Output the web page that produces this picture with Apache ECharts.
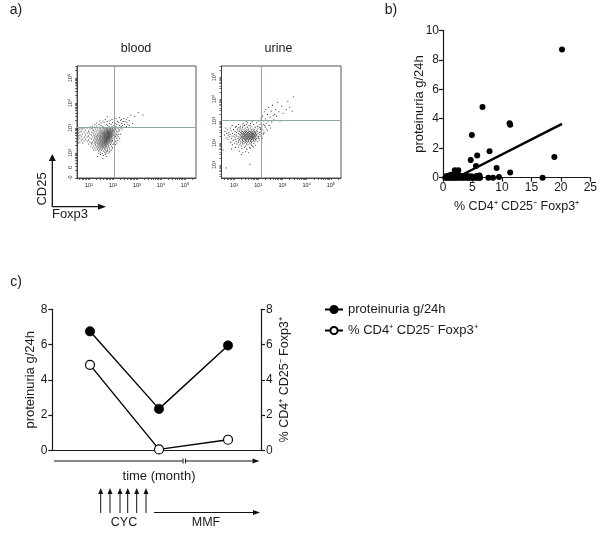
<!DOCTYPE html>
<html><head><meta charset="utf-8">
<style>html,body{margin:0;padding:0;background:#fff}#c{width:600px;height:533px}</style>
<script src="https://cdn.jsdelivr.net/npm/echarts@6/dist/echarts.min.js"></script>
</head><body><div id="c"></div>
<script>
// Panel a: flow events as rows [y, x, x, ...] in hundredths of a log10 decade
const bloodRows = [[362,305],[352,275,325],[346,290],[342,227,262],[338,213,245],[334,196,236,255],[330,188,206,232,268],[326,176,219,242,250],[322,163,198,224,258],[318,185,209,236,282],[314,172,192,216,248,262],[310,150,178,204,228,240,268],[306,158,184,196,212,234,256],[302,140,165,181,203,219,245],
[300,56,68,80,92,134,148,161,169,177,186,193,199,208,217,233],
[296,62,74,104,126,143,155,164,172,175,181,188,190,197,204,211,222,238],
[292,56,86,116,137,150,159,167,174,178,183,187,191,196,201,209,228],
[288,68,98,130,146,153,162,166,171,176,180,184,189,192,198,203,215,225],
[284,62,80,110,122,141,149,157,163,168,173,177,179,182,186,190,194,199,206,220],
[280,56,92,116,133,144,152,158,161,165,170,174,178,181,184,187,191,195,200,212],
[276,74,104,127,138,147,155,160,164,167,171,175,177,180,183,186,188,192,197,205,231],
[272,62,86,110,120,135,143,150,157,162,166,169,172,176,179,182,185,189,193,196,202,218],
[268,56,68,98,124,131,140,148,153,159,163,167,170,174,177,181,184,187,190,194,199,210],
[264,80,92,116,129,137,145,151,156,161,165,168,172,175,178,180,183,186,191,195,207],
[260,62,104,122,133,142,147,154,158,163,166,170,173,176,179,182,185,188,192,200],
[256,56,74,86,110,126,136,144,150,157,160,164,168,171,174,177,181,184,189,196],
[252,68,98,119,131,139,146,152,155,162,166,169,172,175,178,183,187,193],
[248,80,92,124,134,142,148,154,159,163,167,170,173,177,180,185,191],
[244,62,104,114,128,137,145,150,156,161,165,168,172,176,182,188],
[240,56,74,110,122,133,141,147,153,158,163,167,171,175,179,186],
[236,98,126,136,143,150,155,160,165,169,174,180],
[232,127,139,147,152,158,164,170,176,183],
[228,120,134,144,151,157,162,168,173],
[224,131,141,149,155,161,167,175],
[220,125,138,146,154,163,171],
[216,136,147,157,165,177],
[212,129,143,152,168],
[208,140,160,179],[204,148,166],[198,155],[190,160]];
// sparser events round the edge of the blood cloud: upper left and lower right
const bloodEdge = [[345,176],[335,168],[328,145,158],[320,132,150],[315,124,142],[308,114,133],[304,106,124],[298,112],[290,120],[284,100],[275,214,224],[265,212,222],[258,205,216,228],[250,198,208,220],[246,196,212],[240,194,204,216],[234,190,200,210],[228,182,194,206],[222,184,198],[216,186,196],[210,176,192],[205,172,186],[200,142,170,180],[194,148,168],[186,136,172],[178,158],[236,112],[228,108],[220,116],[212,120]];
const urineRows = [[410,345],[390,322],[385,280],[372,259],[368,296],[362,243,330],[352,231,272,315],[345,253,340],[342,225,285],[335,302],[330,238,268],[326,262],[322,217,275],[318,248],[310,211,229],[305,265],[300,203,223,240,290],[296,175,256],[292,156,193],[290,138,233],
[284,118,150,181,207,221],[280,92,144,162,227,245],[276,127,170,199,215],[272,106,135,155,187,229],
[268,66,85,125,146,168,209,250],[264,114,133,160,178,197,235],[260,72,98,124,142,153,172,185,219],
[256,88,116,131,148,158,166,180,192,238],[252,62,104,122,135,144,152,162,170,177,186,196],
[248,78,110,128,139,147,155,160,168,174,183,190,205],[244,70,94,118,130,136,143,150,157,163,171,176,181,188,199,223],
[240,84,102,122,133,140,146,152,158,165,169,175,180,185,192,213],[236,60,76,108,126,137,144,149,155,161,166,172,177,183,187,194],
[232,92,112,129,135,142,147,153,159,164,170,174,179,184,191,208],[228,82,100,120,131,139,145,151,157,162,168,173,178,182,189],
[224,70,106,125,134,141,148,154,160,166,171,176,181,186,198],[220,90,116,128,137,144,150,156,163,169,175,183,192],
[216,75,104,122,133,142,149,158,165,172,179,188],[212,96,120,135,146,152,161,170,181],[208,110,128,140,150,160,168,177],
[204,86,118,134,146,156,172],[200,102,126,142,164],[196,112,136,152,170],[192,94,124,158],[186,130,148,177],[180,106,142,165],[172,90,152],[168,55],[160,148],[104,166],[87,67]];
const urineEdge = [[298,150],[288,168],[282,136],[276,196,110],[270,206,120],[262,210,98],[250,208,224],[240,206,220],[230,200,214],[222,202,216],[214,190,204],[206,186,196],[198,182],[190,172,188],[182,118,180],[176,132,168],[164,122],[156,160,136],[148,130]];
const bloodTitle = "blood", urineTitle = "urine";
const bloodGate = [2.06, 3.02], urineGate = [2.12, 3.05];
const flowTicks = ["10¹","10²","10³","10⁴","10⁵"];

// Panel b
const scatterX = [20.2,6.7,11.3,11.4,4.9,5.8,4.7,7.9,5.6,9.1,11.4,18.9,16.9,9.5,8.5,7.7,2.0,2.6,2.4,2.2,3.0,2.8,1.0,1.4,1.8,0.4,0.7,1.0,1.2,1.5,1.8,2.0,2.3,2.6,3.0,3.3,3.6,4.0,4.3,4.6,5.0,5.2,5.5,5.8,6.1,6.3,0.5,0.9,1.6,3.5,4.2,4.8,5.7,6.2];
const scatterY = [8.7,4.8,3.7,3.6,2.9,1.5,1.2,1.8,0.8,0.65,0.35,1.4,0,0.05,0,0,0.5,0.5,0.3,0.25,0.1,0.15,0.15,0.2,0.15,0,0,0,0,0,0,0,0,0,0,0,0,0,0,0,0,0,0,0,0,0,0.1,0.12,0.1,0.1,0.12,0.1,0.12,0.15];
const fitX = [3.0, 20.2];
const fitY = [0.15, 3.65];

// Panel c
const months = [1, 2, 3];
const proteinuria = [6.75, 2.35, 5.95];
const tregs = [4.85, 0.05, 0.6];
const nameProt = "proteinuria g/24h";
const nameTreg = "% CD4⁺ CD25⁻ Foxp3⁺";

const FONT = '"Liberation Sans", Arial, sans-serif';
const INK = '#1a1a1a';
const expand = rows => rows.flatMap(r => r.slice(1).map(x => [x / 100, r[0] / 100]));
const zip = (a, b) => a.map((v, i) => [v, b[i]]);

const logTicks = [];
for (let d = 0; d <= 5; d++) for (let k = 1; k <= 9; k++) logTicks.push(d + Math.log10(k));

function flowAxes(i, box, xr, yr, yVals, yFmt) {
  const tickStyle = { color: '#333', width: 0.7 };
  return {
    grid: { left: box[0], top: box[1], width: box[2], height: box[3], show: true, borderColor: '#555', borderWidth: 1, backgroundColor: 'transparent' },
    x: { type: 'value', gridIndex: i, min: xr[0], max: xr[1], splitLine: { show: false },
      axisLine: { show: true, onZero: false, lineStyle: { color: '#444', width: 1 } },
      axisTick: { show: true, length: 2, lineStyle: tickStyle, customValues: logTicks.filter(v => v >= xr[0] && v <= xr[1]) },
      axisLabel: { customValues: [1, 2, 3, 4, 5], fontSize: 5.5, color: '#222', margin: 4, fontFamily: FONT,
        formatter: v => flowTicks[Math.round(v) - 1] } },
    y: { type: 'value', gridIndex: i, min: yr[0], max: yr[1], splitLine: { show: false },
      axisLine: { show: true, onZero: false, lineStyle: { color: '#444', width: 1 } },
      axisTick: { show: true, length: 2, lineStyle: tickStyle, customValues: logTicks.filter(v => v >= yr[0] && v <= yr[1]) },
      axisLabel: { customValues: yVals, rotate: 90, fontSize: 5.5, color: '#222', margin: 4, fontFamily: FONT, formatter: yFmt } }
  };
}
const decade = v => flowTicks[Math.round(v) - 1];
const fa = flowAxes(0, [77, 66, 119, 112], [0.5, 5.46], [1, 5.48], [1, 1.42, 2, 3, 4, 5], v => v === 1 ? '-0' : v < 2 ? '0' : decade(v));
const fb = flowAxes(1, [221.5, 66, 119.5, 112], [0.48, 5.42], [0.41, 5.5], [1, 2, 3, 4, 5], decade);

function flowSeries(name, idx, pts, gate) {
  return { type: 'scatter', name, xAxisIndex: idx, yAxisIndex: idx, data: pts, symbolSize: 1.1, silent: true,
    itemStyle: { color: '#222', opacity: 1 }, animation: false,
    markLine: { silent: true, symbol: 'none', animation: false, label: { show: false },
      lineStyle: { color: '#8fa8a3', width: 1, type: 'solid' },
      data: [{ xAxis: gate[0] }, { yAxis: gate[1] }] } };
}

const tickText = { fontSize: 12, color: INK, fontFamily: FONT };
const nameText = { fontSize: 13, color: INK, fontFamily: FONT };
const solidAxis = { show: true, onZero: false, lineStyle: { color: INK, width: 1.2 } };
const solidTick = { show: true, length: 4, lineStyle: { color: INK, width: 1.2 } };

function text(t, x, y, size) {
  return { type: 'text', x, y, style: { text: t, fontSize: size, fontFamily: FONT, fill: INK, align: 'center', verticalAlign: 'middle' } };
}
function vtext(t, x, y, size) { return { type: 'text', x, y, rotation: Math.PI / 2, style: { text: t, fontSize: size, fontFamily: FONT, fill: INK, align: 'center', verticalAlign: 'middle' } }; }
function arrow(x1, y1, x2, y2, w, hl, hw) {
  const dx = x2 - x1, dy = y2 - y1, L = Math.hypot(dx, dy), ux = dx / L, uy = dy / L;
  const bx = x2 - ux * hl, by = y2 - uy * hl;
  return [
    { type: 'line', shape: { x1, y1, x2: bx, y2: by }, style: { stroke: '#111', lineWidth: w } },
    { type: 'polygon', shape: { points: [[x2, y2], [bx - uy * hw, by + ux * hw], [bx + uy * hw, by - ux * hw]] }, style: { fill: '#111' } }
  ];
}
const ln = (x1, y1, x2, y2, w) => ({ type: 'line', shape: { x1, y1, x2, y2 }, style: { stroke: '#111', lineWidth: w } });

const graphics = [
  text('a)', 16, 10, 14), text('b)', 391, 10, 14), text('c)', 16, 282, 14),
  text(bloodTitle, 136, 48.5, 12.5), text(urineTitle, 278.5, 48.5, 12.5),
  vtext('CD25', 42.5, 189, 13), text('Foxp3', 70, 214, 13),
  ...arrow(52.3, 207, 52.3, 154, 1.3, 7, 3.5), ...arrow(52.3, 206.7, 106, 206.7, 1.3, 8, 3),
  ln(54, 461, 182.5, 461, 1), ln(183, 458.5, 183, 463.5, 1), ln(185.5, 458.5, 185.5, 463.5, 1),
  ...arrow(186, 461, 259.5, 461, 1, 7, 2.5),
  text('time (month)', 159, 476, 13),
  ...[100.7, 110, 120, 127.7, 136.7, 146].flatMap(x => arrow(x, 513, x, 488, 1, 6, 2.5)),
  ...arrow(154, 512.5, 260, 512.5, 1, 7, 2.5),
  text('CYC', 124, 522.5, 12.5), text('MMF', 206, 522.5, 12.5)
];

const option = {
  animation: false, backgroundColor: '#fff',
  textStyle: { fontFamily: FONT },
  grid: [fa.grid, fb.grid,
    { left: 443, top: 30.3, width: 147.3, height: 147.4 },
    { left: 52.3, top: 309.3, width: 208.7, height: 141 }],
  xAxis: [fa.x, fb.x,
    { type: 'value', gridIndex: 2, min: 0, max: 25, interval: 5, splitLine: { show: false }, axisLine: solidAxis, axisTick: solidTick,
      axisLabel: Object.assign({ margin: 4 }, tickText), name: nameTreg, nameLocation: 'middle', nameGap: 29, nameMoveOverlap: false, nameTextStyle: Object.assign({}, nameText, { fontSize: 12.5, verticalAlign: 'middle' }) },
    { type: 'value', gridIndex: 3, min: 0.454, max: 3.478, splitLine: { show: false }, axisLine: solidAxis, axisTick: { show: false }, axisLabel: { show: false } }],
  yAxis: [fa.y, fb.y,
    { type: 'value', gridIndex: 2, min: 0, max: 10, interval: 2, splitLine: { show: false }, axisLine: solidAxis, axisTick: solidTick,
      axisLabel: Object.assign({ margin: 4 }, tickText), name: nameProt, nameLocation: 'middle', nameGap: 24, nameMoveOverlap: false, nameTextStyle: Object.assign({ verticalAlign: 'middle' }, nameText) },
    { type: 'value', gridIndex: 3, min: 0, max: 8, interval: 2, splitLine: { show: false }, axisLine: solidAxis, axisTick: solidTick,
      axisLabel: Object.assign({ margin: 5 }, tickText), name: nameProt, nameLocation: 'middle', nameGap: 21.5, nameMoveOverlap: false, nameTextStyle: Object.assign({ verticalAlign: 'middle' }, nameText) },
    { type: 'value', gridIndex: 3, position: 'right', min: 0, max: 8, interval: 2, splitLine: { show: false }, axisLine: solidAxis, axisTick: solidTick,
      axisLabel: Object.assign({ margin: 5 }, tickText), name: nameTreg, nameLocation: 'middle', nameRotate: 90, nameGap: 24, nameMoveOverlap: false, nameTextStyle: { fontSize: 12.5, color: INK, fontFamily: FONT, verticalAlign: 'middle' } }],
  legend: { left: 324, top: 303, padding: 0, orient: 'vertical', itemGap: 8, itemWidth: 18, itemHeight: 9, data: [nameProt, nameTreg],
    selectedMode: false, textStyle: { fontSize: 13, color: INK, fontFamily: FONT } },
  series: [
    flowSeries('blood events', 0, expand(bloodRows.concat(bloodEdge)), bloodGate),
    flowSeries('urine events', 1, expand(urineRows.concat(urineEdge)), urineGate),
    { type: 'scatter', name: 'patients', xAxisIndex: 2, yAxisIndex: 2, data: zip(scatterX, scatterY), symbolSize: 6, itemStyle: { color: '#000', opacity: 1 }, clip: false },
    { type: 'line', name: 'fit', xAxisIndex: 2, yAxisIndex: 2, data: zip(fitX, fitY), showSymbol: false, lineStyle: { color: '#000', width: 2.4 } },
    { type: 'line', name: nameProt, xAxisIndex: 3, yAxisIndex: 3, data: zip(months, proteinuria), symbol: 'circle', symbolSize: 9.5, clip: false,
      lineStyle: { color: '#000', width: 1.4 }, itemStyle: { color: '#000', borderColor: '#000', borderWidth: 0.5 } },
    { type: 'line', name: nameTreg, xAxisIndex: 3, yAxisIndex: 4, data: zip(months, tregs), symbol: 'circle', symbolSize: 9, clip: false,
      lineStyle: { color: '#000', width: 1.4 }, itemStyle: { color: '#fff', borderColor: '#000', borderWidth: 1.2 } }
  ],
  graphic: graphics
};
echarts.init(document.getElementById('c'), null, { renderer: 'canvas' }).setOption(option);
</script></body></html>
